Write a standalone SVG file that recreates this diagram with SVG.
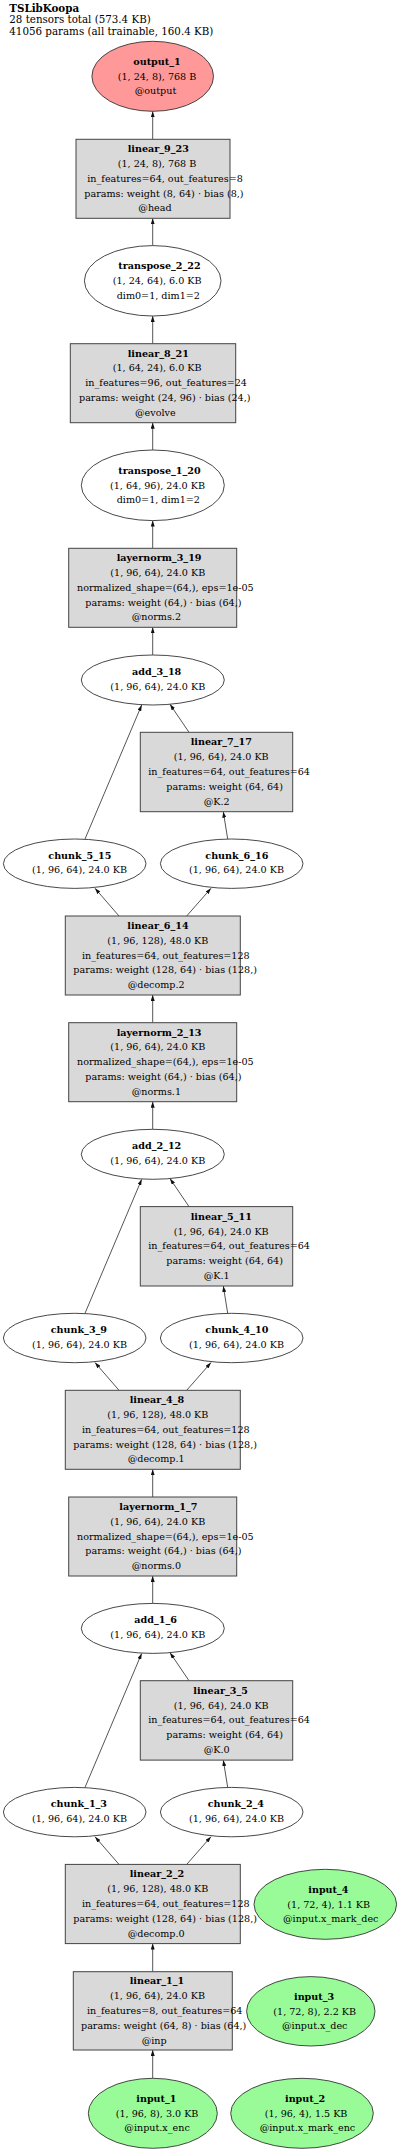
<svg xmlns="http://www.w3.org/2000/svg" width="400" height="2152" viewBox="0 0 400 2152">
<defs>
<style>
text{font-family:"DejaVu Serif","Liberation Serif",serif;font-size:9.6px;fill:#000}
.b{font-weight:bold}
.h{font-size:10.3px}
.box{fill:#d9d9d9;stroke:#444;stroke-width:1}
.ell{fill:#fff;stroke:#333;stroke-width:0.9}
.out{fill:#ff9999;stroke:#333;stroke-width:0.9}
.inp{fill:#98fb98;stroke:#333;stroke-width:0.9}
.e{stroke:#555;stroke-width:1;fill:none;marker-end:url(#ah)}
</style>
<marker id="ah" viewBox="0 0 6 4" refX="6" refY="2" markerWidth="6" markerHeight="4" markerUnits="userSpaceOnUse" orient="auto">
<path d="M0,0 L6,2 L0,4 z" fill="#111"/>
</marker>
</defs>
<rect width="400" height="2152" fill="#fff"/>
<g id="header">
<text x="9.3" y="12" class="b h">TSLibKoopa</text>
<text x="9.3" y="23.3" class="h">28 tensors total (573.4 KB)</text>
<text x="9.3" y="34.5" class="h">41056 params (all trainable, 160.4 KB)</text>
</g>
<g id="edges">
<line class="e" x1="152.7" y1="139.3" x2="152.7" y2="111.3"/>
<line class="e" x1="152.7" y1="245.6" x2="152.7" y2="218.3"/>
<line class="e" x1="152.7" y1="343.7" x2="152.7" y2="316"/>
<line class="e" x1="152.7" y1="450" x2="152.7" y2="422.7"/>
<line class="e" x1="152.7" y1="548.3" x2="152.7" y2="520.6"/>
<line class="e" x1="152.7" y1="655" x2="152.7" y2="627.3"/>
<line class="e" x1="85" y1="839" x2="141.7" y2="705"/>
<line class="e" x1="189" y1="732.3" x2="170" y2="704.3"/>
<line class="e" x1="227.7" y1="839" x2="223.3" y2="811.7"/>
<line class="e" x1="119" y1="916" x2="95" y2="888.3"/>
<line class="e" x1="186.7" y1="916" x2="211" y2="888.3"/>
<line class="e" x1="152.7" y1="1022.7" x2="152.7" y2="995"/>
<line class="e" x1="152.7" y1="1129.3" x2="152.7" y2="1101.7"/>
<line class="e" x1="85" y1="1313.3" x2="141.7" y2="1179.3"/>
<line class="e" x1="189" y1="1206.6" x2="170" y2="1178.6"/>
<line class="e" x1="227.7" y1="1313.3" x2="223.3" y2="1286"/>
<line class="e" x1="119" y1="1390.3" x2="95" y2="1362.6"/>
<line class="e" x1="186.7" y1="1390.3" x2="211" y2="1362.6"/>
<line class="e" x1="152.7" y1="1497" x2="152.7" y2="1469.3"/>
<line class="e" x1="152.7" y1="1603.4" x2="152.7" y2="1576"/>
<line class="e" x1="85" y1="1787.4" x2="141.7" y2="1653.4"/>
<line class="e" x1="189" y1="1680.7" x2="170" y2="1652.7"/>
<line class="e" x1="227.7" y1="1787.4" x2="223.3" y2="1760.1"/>
<line class="e" x1="119" y1="1864.4" x2="95" y2="1836.7"/>
<line class="e" x1="186.7" y1="1864.4" x2="211" y2="1836.7"/>
<line class="e" x1="152.7" y1="1971.7" x2="152.7" y2="1943.6"/>
<line class="e" x1="152.7" y1="2078.3" x2="152.7" y2="2050"/>
</g>
<g id="output_1">
<ellipse class="out" cx="152.7" cy="76.3" rx="60.8" ry="35"/>
<text x="133.3" y="64.7" class="b">output_1</text>
<text x="117.7" y="79.5">(1, 24, 8), 768 B</text>
<text x="134.7" y="94.3">@output</text>
</g>
<g id="linear_9_23">
<rect class="box" x="76" y="139.3" width="154" height="79"/>
<text x="127.7" y="152.2" class="b">linear_9_23</text>
<text x="117.7" y="167">(1, 24, 8), 768 B</text>
<text x="87.3" y="181.8">in_features=64, out_features=8</text>
<text x="84.3" y="196.6">params: weight (8, 64) · bias (8,)</text>
<text x="138.3" y="211.4">@head</text>
</g>
<g id="transpose_2_22">
<ellipse class="ell" cx="152.7" cy="280.8" rx="68.3" ry="35.2"/>
<text x="118.3" y="269.2" class="b">transpose_2_22</text>
<text x="112.7" y="284">(1, 24, 64), 6.0 KB</text>
<text x="116.7" y="298.8">dim0=1, dim1=2</text>
</g>
<g id="linear_8_21">
<rect class="box" x="70.3" y="343.7" width="165.4" height="79"/>
<text x="127.7" y="356.6" class="b">linear_8_21</text>
<text x="112.7" y="371.4">(1, 64, 24), 6.0 KB</text>
<text x="85.3" y="386.2">in_features=96, out_features=24</text>
<text x="79" y="401">params: weight (24, 96) · bias (24,)</text>
<text x="135" y="415.8">@evolve</text>
</g>
<g id="transpose_1_20">
<ellipse class="ell" cx="152.8" cy="485.3" rx="71.5" ry="35.3"/>
<text x="118.3" y="473.7" class="b">transpose_1_20</text>
<text x="110" y="488.5">(1, 64, 96), 24.0 KB</text>
<text x="116.7" y="503.3">dim0=1, dim1=2</text>
</g>
<g id="layernorm_3_19">
<rect class="box" x="68.7" y="548.3" width="168" height="79"/>
<text x="116.7" y="561.2" class="b">layernorm_3_19</text>
<text x="110.3" y="576">(1, 96, 64), 24.0 KB</text>
<text x="77" y="590.8">normalized_shape=(64,), eps=1e-05</text>
<text x="85.3" y="605.6">params: weight (64,) · bias (64,)</text>
<text x="131.7" y="620.4">@norms.2</text>
</g>
<g id="add_3_18">
<ellipse class="ell" cx="152.8" cy="680" rx="71.5" ry="25"/>
<text x="132" y="675" class="b">add_3_18</text>
<text x="110.3" y="689.6">(1, 96, 64), 24.0 KB</text>
</g>
<g id="linear_7_17">
<rect class="box" x="140.3" y="732.3" width="152.4" height="79.4"/>
<text x="190.7" y="745.4" class="b">linear_7_17</text>
<text x="173.7" y="760.2">(1, 96, 64), 24.0 KB</text>
<text x="148.3" y="775">in_features=64, out_features=64</text>
<text x="166.3" y="789.8">params: weight (64, 64)</text>
<text x="203.7" y="804.6">@K.2</text>
</g>
<g id="chunk_5_15">
<ellipse class="ell" cx="74.7" cy="863.7" rx="71.3" ry="24.7"/>
<text x="48.3" y="858.7" class="b">chunk_5_15</text>
<text x="32" y="873.3">(1, 96, 64), 24.0 KB</text>
</g>
<g id="chunk_6_16">
<ellipse class="ell" cx="231.7" cy="863.7" rx="71.3" ry="24.7"/>
<text x="205.3" y="858.7" class="b">chunk_6_16</text>
<text x="189" y="873.3">(1, 96, 64), 24.0 KB</text>
</g>
<g id="linear_6_14">
<rect class="box" x="65.3" y="916" width="175" height="79"/>
<text x="127.3" y="928.9" class="b">linear_6_14</text>
<text x="107.3" y="943.7">(1, 96, 128), 48.0 KB</text>
<text x="82" y="958.5">in_features=64, out_features=128</text>
<text x="73.3" y="973.3">params: weight (128, 64) · bias (128,)</text>
<text x="127.7" y="988.1">@decomp.2</text>
</g>
<g id="layernorm_2_13">
<rect class="box" x="68.7" y="1022.7" width="168" height="79"/>
<text x="116.7" y="1035.6" class="b">layernorm_2_13</text>
<text x="110.3" y="1050.4">(1, 96, 64), 24.0 KB</text>
<text x="77" y="1065.2">normalized_shape=(64,), eps=1e-05</text>
<text x="85.3" y="1080">params: weight (64,) · bias (64,)</text>
<text x="131.7" y="1094.8">@norms.1</text>
</g>
<g id="add_2_12">
<ellipse class="ell" cx="152.8" cy="1154.3" rx="71.5" ry="25"/>
<text x="132" y="1149.3" class="b">add_2_12</text>
<text x="110.3" y="1163.9">(1, 96, 64), 24.0 KB</text>
</g>
<g id="linear_5_11">
<rect class="box" x="140.3" y="1206.6" width="152.4" height="79.4"/>
<text x="190.7" y="1219.7" class="b">linear_5_11</text>
<text x="173.7" y="1234.5">(1, 96, 64), 24.0 KB</text>
<text x="148.3" y="1249.3">in_features=64, out_features=64</text>
<text x="166.3" y="1264.1">params: weight (64, 64)</text>
<text x="203.7" y="1278.9">@K.1</text>
</g>
<g id="chunk_3_9">
<ellipse class="ell" cx="74.7" cy="1338" rx="71.3" ry="24.7"/>
<text x="50.7" y="1333" class="b">chunk_3_9</text>
<text x="32" y="1347.6">(1, 96, 64), 24.0 KB</text>
</g>
<g id="chunk_4_10">
<ellipse class="ell" cx="231.7" cy="1338" rx="71.3" ry="24.7"/>
<text x="205.3" y="1333" class="b">chunk_4_10</text>
<text x="189" y="1347.6">(1, 96, 64), 24.0 KB</text>
</g>
<g id="linear_4_8">
<rect class="box" x="65.3" y="1390.3" width="175" height="79"/>
<text x="129.7" y="1403.2" class="b">linear_4_8</text>
<text x="107.3" y="1418">(1, 96, 128), 48.0 KB</text>
<text x="82" y="1432.8">in_features=64, out_features=128</text>
<text x="73.3" y="1447.6">params: weight (128, 64) · bias (128,)</text>
<text x="127.7" y="1462.4">@decomp.1</text>
</g>
<g id="layernorm_1_7">
<rect class="box" x="68.7" y="1497" width="168" height="79"/>
<text x="119.3" y="1509.9" class="b">layernorm_1_7</text>
<text x="110.3" y="1524.7">(1, 96, 64), 24.0 KB</text>
<text x="77" y="1539.5">normalized_shape=(64,), eps=1e-05</text>
<text x="85.3" y="1554.3">params: weight (64,) · bias (64,)</text>
<text x="131.7" y="1569.1">@norms.0</text>
</g>
<g id="add_1_6">
<ellipse class="ell" cx="152.8" cy="1628.4" rx="71.5" ry="25"/>
<text x="134.3" y="1623.4" class="b">add_1_6</text>
<text x="110.3" y="1638">(1, 96, 64), 24.0 KB</text>
</g>
<g id="linear_3_5">
<rect class="box" x="140.3" y="1680.7" width="152.4" height="79.4"/>
<text x="193.3" y="1693.8" class="b">linear_3_5</text>
<text x="173.7" y="1708.6">(1, 96, 64), 24.0 KB</text>
<text x="148.3" y="1723.4">in_features=64, out_features=64</text>
<text x="166.3" y="1738.2">params: weight (64, 64)</text>
<text x="203.7" y="1753">@K.0</text>
</g>
<g id="chunk_1_3">
<ellipse class="ell" cx="74.7" cy="1812.1" rx="71.3" ry="24.7"/>
<text x="50.7" y="1807.1" class="b">chunk_1_3</text>
<text x="32" y="1821.7">(1, 96, 64), 24.0 KB</text>
</g>
<g id="chunk_2_4">
<ellipse class="ell" cx="231.7" cy="1812.1" rx="71.3" ry="24.7"/>
<text x="207.7" y="1807.1" class="b">chunk_2_4</text>
<text x="189" y="1821.7">(1, 96, 64), 24.0 KB</text>
</g>
<g id="linear_2_2">
<rect class="box" x="65.3" y="1864.4" width="175" height="79.2"/>
<text x="129.7" y="1877.4" class="b">linear_2_2</text>
<text x="107.3" y="1892.2">(1, 96, 128), 48.0 KB</text>
<text x="82" y="1907">in_features=64, out_features=128</text>
<text x="73.3" y="1921.8">params: weight (128, 64) · bias (128,)</text>
<text x="127.7" y="1936.6">@decomp.0</text>
</g>
<g id="input_4">
<ellipse class="inp" cx="325.3" cy="1904.3" rx="71.3" ry="35"/>
<text x="308.3" y="1892.7" class="b">input_4</text>
<text x="287.3" y="1907.5">(1, 72, 4), 1.1 KB</text>
<text x="283" y="1922.3">@input.x_mark_dec</text>
</g>
<g id="linear_1_1">
<rect class="box" x="73.3" y="1971.7" width="159" height="78.3"/>
<text x="129.7" y="1984.3" class="b">linear_1_1</text>
<text x="110" y="1999.1">(1, 96, 64), 24.0 KB</text>
<text x="87" y="2013.9">in_features=8, out_features=64</text>
<text x="81" y="2028.7">params: weight (64, 8) · bias (64,)</text>
<text x="141.7" y="2043.5">@inp</text>
</g>
<g id="input_3">
<ellipse class="inp" cx="310.8" cy="2011.3" rx="64.2" ry="34.7"/>
<text x="294" y="1999.7" class="b">input_3</text>
<text x="273.3" y="2014.5">(1, 72, 8), 2.2 KB</text>
<text x="282" y="2029.3">@input.x_dec</text>
</g>
<g id="input_1">
<ellipse class="inp" cx="152.8" cy="2113.3" rx="64.5" ry="35"/>
<text x="136.3" y="2101.7" class="b">input_1</text>
<text x="115.7" y="2116.5">(1, 96, 8), 3.0 KB</text>
<text x="124.3" y="2131.3">@input.x_enc</text>
</g>
<g id="input_2">
<ellipse class="inp" cx="302" cy="2113.3" rx="71.3" ry="35"/>
<text x="285" y="2101.7" class="b">input_2</text>
<text x="264.7" y="2116.5">(1, 96, 4), 1.5 KB</text>
<text x="259.7" y="2131.3">@input.x_mark_enc</text>
</g>
</svg>
